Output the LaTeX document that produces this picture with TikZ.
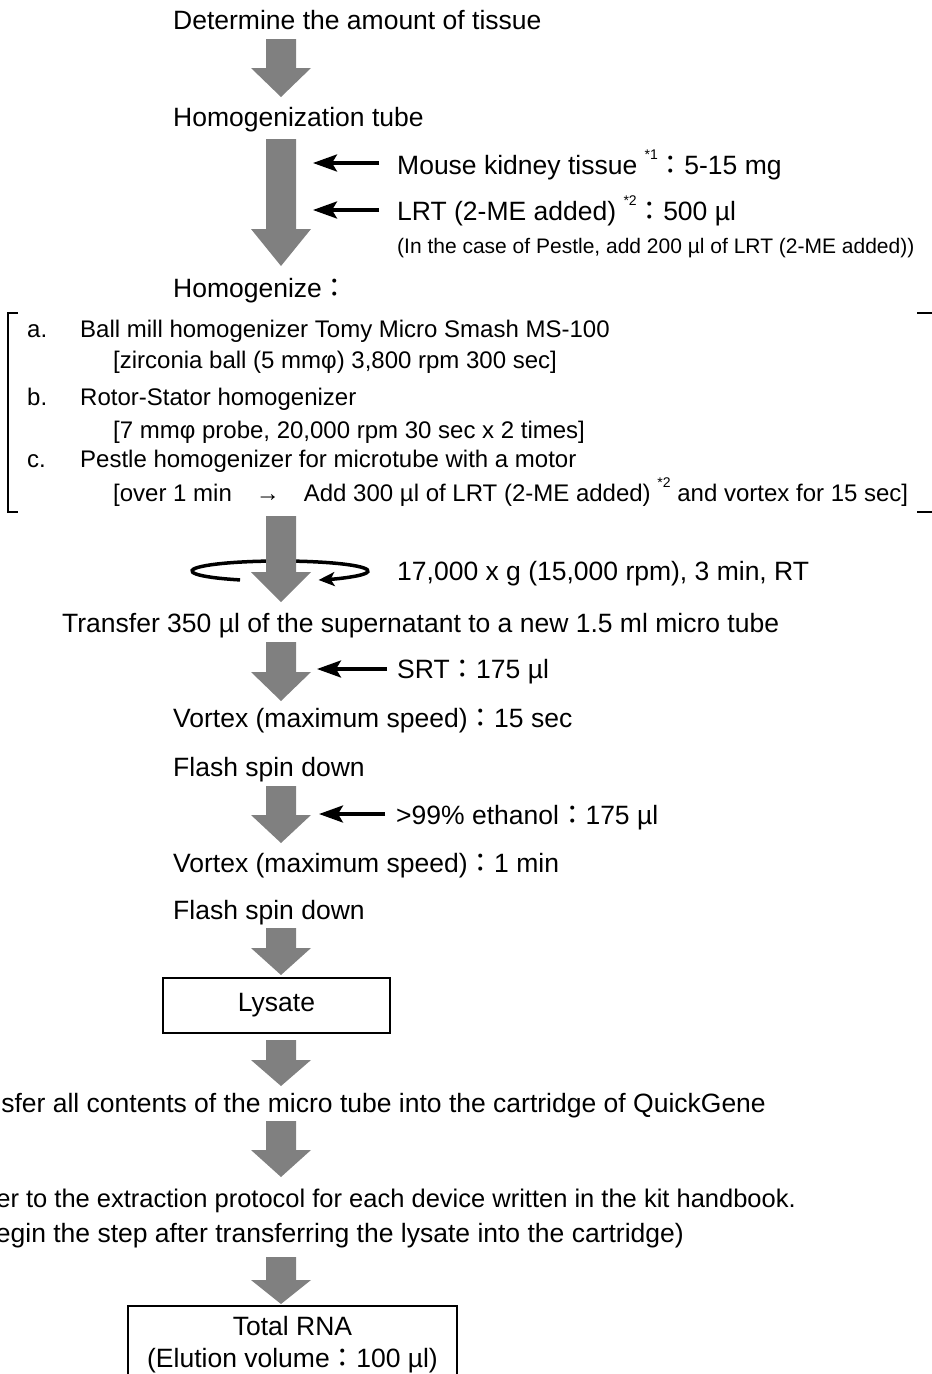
\documentclass[tikz,border=0pt]{standalone}
\usepackage{fontspec}
\setmainfont{Liberation Sans}
\newfontfamily\cjk{Noto Sans CJK JP}
\usetikzlibrary{arrows.meta}
\definecolor{blockgray}{RGB}{128,128,128}
\newcommand{\wcolon}{{\cjk ：}}
\newcommand{\notemark}[1]{\raisebox{0.55em}{\fontsize{14}{14}\selectfont #1}}
% block arrow: name, top, neck, tip
\newcommand{\blockdown}[4]{%
  \fill[blockgray] (266,#2) -- (296,#2) -- (296,#3) -- (311,#3) -- (281,#4)
    -- (251,#3) -- (266,#3) -- cycle;
  \coordinate (#1) at (281,#4);}
\tikzset{
  stagetext/.style={anchor=base west,inner sep=0pt,font=\fontsize{26.5}{30}\selectfont},
  itemtext/.style={anchor=base west,inner sep=0pt,font=\fontsize{24}{28}\selectfont},
  notetext/.style={anchor=base west,inner sep=0pt,font=\fontsize{21}{25}\selectfont},
  panel/.style={draw,line width=2pt,inner sep=0pt,font=\fontsize{26.5}{32}\selectfont,align=center},
  feed/.style={line width=3.5pt,-{Stealth[length=24pt,width=17pt,inset=5pt]}},
  spinline/.style={line width=3.5pt,-{Stealth[length=16pt,width=14pt,inset=4pt]}},
  bracketline/.style={line width=2pt}
}
\begin{document}
\begin{tikzpicture}[x=1pt,y=-1pt]
  \useasboundingbox (0,0) rectangle (932,1374);
  % steps
  \node[stagetext] (amount) at (173,29) {Determine the amount of tissue};
  \blockdown{arrowA}{39}{68}{97}
  \node[stagetext] (tube) at (173,126) {Homogenization tube};
  \blockdown{arrowB}{139}{229}{266}
  \node[stagetext] (tissue) at (397,174) {Mouse kidney tissue \notemark{*1}\wcolon 5-15 mg};
  \node[stagetext] (lrt) at (397,220) {LRT (2-ME added) \notemark{*2}\wcolon 500 µl};
  \node[notetext] (pestle) at (397,253) {(In the case of Pestle, add 200 µl of LRT (2-ME added))};
  \coordinate (tissue tail) at (379,163);
  \coordinate (tissue tip) at (313,163);
  \coordinate (lrt tail) at (379,210);
  \coordinate (lrt tip) at (313,210);
  \draw[feed] (tissue tail) -- (tissue tip);
  \draw[feed] (lrt tail) -- (lrt tip);
  \node[stagetext] (homog) at (173,297) {Homogenize\wcolon};
  % homogenizer options
  \draw[bracketline] (18,313) -- (8,313) -- (8,512) -- (18,512);
  \draw[bracketline] (917,313) -- (945,313) -- (945,512) -- (917,512);
  \node[itemtext] (ballA) at (27,337) {a.};
  \node[itemtext] (ballB) at (80,337) {Ball mill homogenizer Tomy Micro Smash MS-100};
  \node[itemtext] (ballC) at (113,368) {[zirconia ball (5 mmφ) 3,800 rpm 300 sec]};
  \node[itemtext] (rotorA) at (27,405) {b.};
  \node[itemtext] (rotorB) at (80,405) {Rotor-Stator homogenizer};
  \node[itemtext] (rotorC) at (113,438) {[7 mmφ probe, 20,000 rpm 30 sec x 2 times]};
  \node[itemtext] (pestleA) at (27,467) {c.};
  \node[itemtext] (pestleB) at (80,467) {Pestle homogenizer for microtube with a motor};
  \node[itemtext] (pestleC) at (113,501) {[over 1 min\quad →\quad Add 300 µl of LRT (2-ME added) \notemark{*2} and vortex for 15 sec]};
  % centrifuge
  \draw[spinline] (280,571) ++(117:88 and 10) arc[start angle=117,end angle=424,x radius=88,y radius=10];
  \blockdown{arrowC}{516}{572}{602}
  \node[stagetext] (spin) at (397,580) {17,000 x g (15,000 rpm), 3 min, RT};
  \node[stagetext] (super) at (62,632) {Transfer 350 µl of the supernatant to a new 1.5 ml micro tube};
  \blockdown{arrowD}{642}{672}{701}
  \coordinate (srt tail) at (387,669);
  \coordinate (srt tip) at (317,669);
  \draw[feed] (srt tail) -- (srt tip);
  \node[stagetext] (srt) at (397,678) {SRT\wcolon 175 µl};
  \node[stagetext] (vortexA) at (173,727) {Vortex (maximum speed)\wcolon 15 sec};
  \node[stagetext] (flashA) at (173,776) {Flash spin down};
  \blockdown{arrowE}{786}{815}{843}
  \coordinate (ethanol tail) at (385,814);
  \coordinate (ethanol tip) at (319,814);
  \draw[feed] (ethanol tail) -- (ethanol tip);
  \node[stagetext] (ethanol) at (396,824) {>99\% ethanol\wcolon 175 µl};
  \node[stagetext] (vortexB) at (173,872) {Vortex (maximum speed)\wcolon 1 min};
  \node[stagetext] (flashB) at (173,919) {Flash spin down};
  \blockdown{arrowF}{928}{948}{975}
  \node[panel,minimum width=227,minimum height=55] (lysate) at (276.5,1005.5) {Lysate};
  \blockdown{arrowG}{1040}{1060}{1086}
  \node[stagetext,anchor=base east] (cartridge) at (766,1112) {Transfer all contents of the micro tube into the cartridge of QuickGene};
  \blockdown{arrowH}{1121}{1150}{1177}
  \node[stagetext,anchor=base east,font=\fontsize{25.5}{30}\selectfont] (refer) at (796,1207) {Refer to the extraction protocol for each device written in the kit handbook.};
  \node[stagetext,anchor=base east] (begin) at (684,1242) {(Begin the step after transferring the lysate into the cartridge)};
  \blockdown{arrowI}{1257}{1280}{1304}
  \node[panel,anchor=north,minimum width=329,minimum height=78] (rna) at (292.5,1305) {Total RNA\\(Elution volume\wcolon 100 µl)};
\end{tikzpicture}
\end{document}
